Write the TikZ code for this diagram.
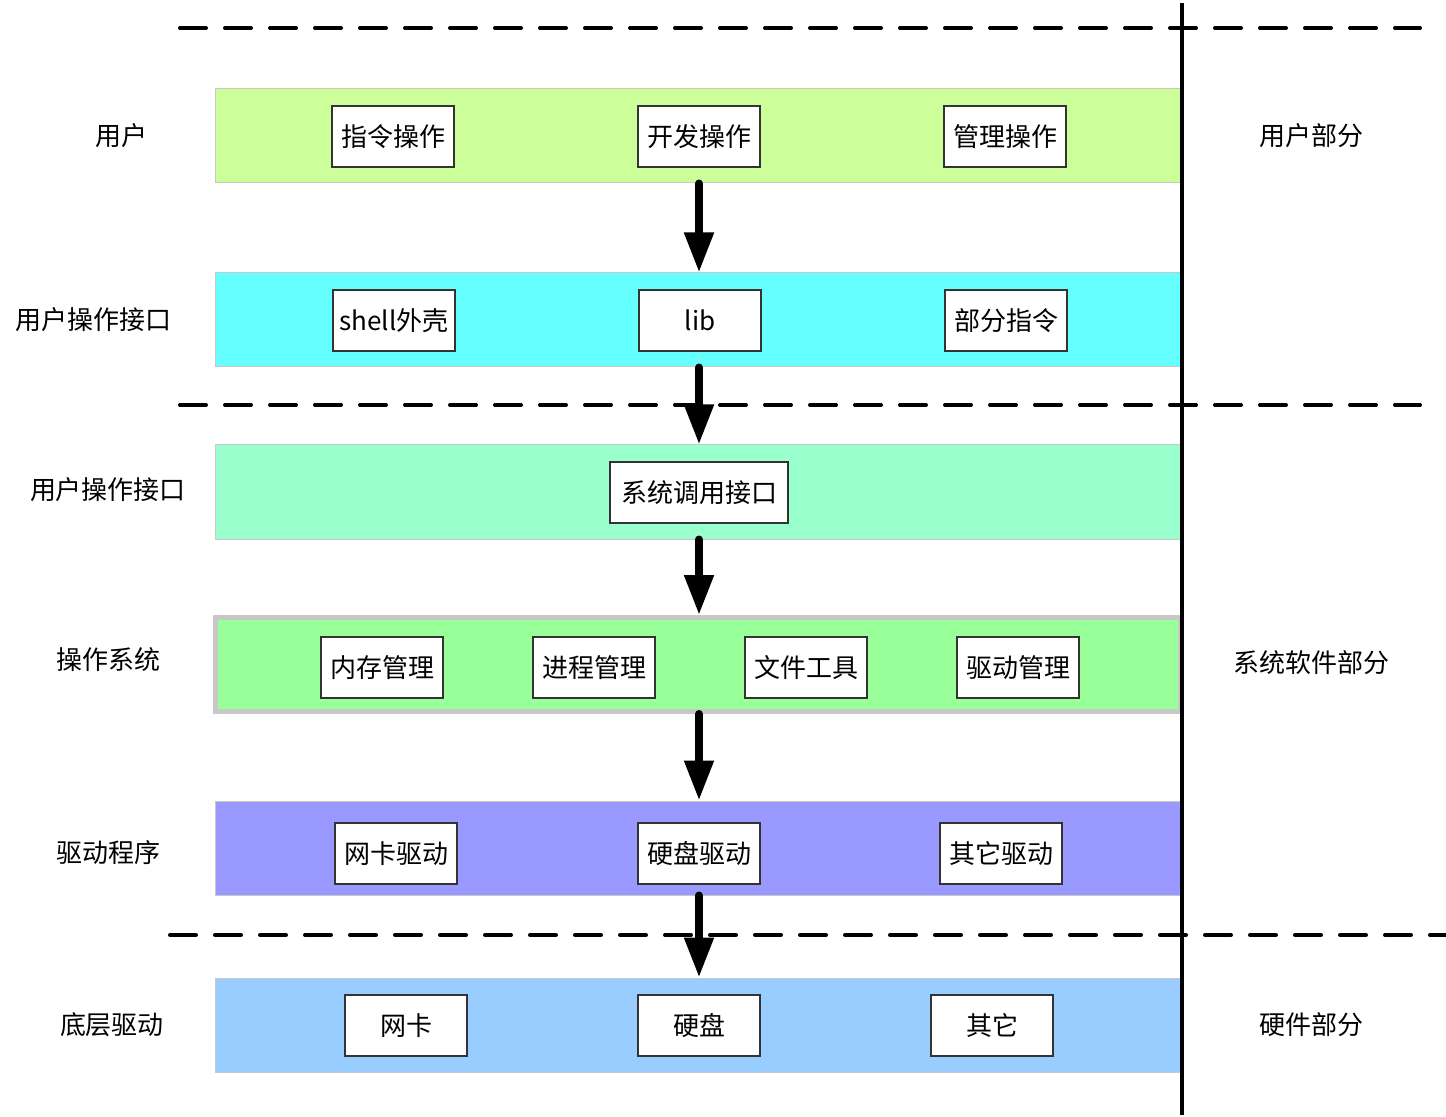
\documentclass[tikz,border=0pt]{standalone}
\usepackage{fontspec}
\setmainfont{Noto Sans CJK SC}
\usepackage{tikz}
\usetikzlibrary{arrows.meta, positioning}

\definecolor{userband}{HTML}{CCFF99}
\definecolor{ifaceband}{HTML}{66FFFF}
\definecolor{callband}{HTML}{99FFCC}
\definecolor{osband}{HTML}{99FF99}
\definecolor{drvband}{HTML}{9999FF}
\definecolor{hwband}{HTML}{99CCFF}
\definecolor{edgegray}{HTML}{C8C8C8}

\begin{document}
\begin{tikzpicture}
	[x=0.5pt, y=-0.5pt, font=\fontsize{13pt}{15pt}\selectfont,
	 band/.style={draw=edgegray, line width=0.5pt, minimum width=482.5pt, minimum height=47pt, inner sep=0pt},
	 item/.style={draw=black!80, fill=white, line width=0.6pt, minimum width=61pt, minimum height=30.5pt, inner sep=0pt},
	 flow/.style={-{Triangle[width=14pt,length=20pt]}, line width=4pt, line cap=round},
	 split/.style={line width=2pt, dash pattern=on 13pt off 9.5pt, line cap=round}]
   \useasboundingbox (0,0) rectangle (1446,1117);
   \coordinate (mid) at (699,0);
   % dashed separators
   \coordinate (d1a) at (180,28);  \coordinate (d1b) at (1420,28);
   \coordinate (d2a) at (180,405); \coordinate (d2b) at (1420,405);
   \coordinate (d3a) at (170,935); \coordinate (d3b) at (1446,935);
   \draw[split] (d1a) -- (d1b);
   \draw[split] (d2a) -- (d2b);
   \draw[split] (d3a) -- (d3b);
   % bands
   \node[band, fill=userband] (user) at (697.5,136) {};
   \node[band, fill=ifaceband] (iface) at (697.5,320) {};
   \node[band, fill=callband] (call) at (697.5,492) {};
   \node[band, fill=osband, line width=2.5pt] (os) at (697.5,664.5) {};
   \node[band, fill=drvband] (drv) at (697.5,848) {};
   \node[band, fill=hwband] (hw) at (697.5,1025) {};
   % left labels
   \node (l_user) at (121,136) {用户};
   \node (l_iface) at (94,320) {用户操作接口};
   \node (l_call) at (108,490) {用户操作接口};
   \node (l_os) at (108,660) {操作系统};
   \node (l_drv) at (108,853) {驱动程序};
   \node (l_hw) at (112,1025) {底层驱动};
   % right labels
   \node (r_user) at (1311,136) {用户部分};
   \node (r_sys) at (1311,663) {系统软件部分};
   \node (r_hw) at (1311,1025) {硬件部分};
   % boxes
   \node[item] (cmd) at (393,136.5) {指令操作};
   \node[item] (dev) at (699,136.5) {开发操作};
   \node[item] (adm) at (1005,136.5) {管理操作};
   \node[item] (shell) at (394,320.5) {shell外壳};
   \node[item] (lib) at (700,320.5) {lib};
   \node[item] (part) at (1006,320.5) {部分指令};
   \node[item, minimum width=89pt] (sys) at (699,492.5) {系统调用接口};
   \node[item] (mem) at (382,667.5) {内存管理};
   \node[item] (proc) at (594,667.5) {进程管理};
   \node[item] (file) at (806,667.5) {文件工具};
   \node[item] (dman) at (1018,667.5) {驱动管理};
   \node[item] (nicd) at (396,853.5) {网卡驱动};
   \node[item] (diskd) at (699,853.5) {硬盘驱动};
   \node[item] (othd) at (1001,853.5) {其它驱动};
   \node[item] (nic) at (406,1025.5) {网卡};
   \node[item] (disk) at (699,1025.5) {硬盘};
   \node[item] (oth) at (992,1025.5) {其它};
   % flow arrows
   \draw[flow] (user.south -| mid) -- (iface.north -| mid);
   \draw[flow] (iface.south -| mid) -- (call.north -| mid);
   \draw[flow] (call.south -| mid) -- (os.north -| mid);
   \draw[flow] (os.south -| mid) -- (drv.north -| mid);
   \draw[flow] (drv.south -| mid) -- (hw.north -| mid);
   % divider
   \coordinate (vtop) at (1182,3);
   \coordinate (vbot) at (1182,1115);
   \draw[line width=2pt] (vtop) -- (vbot);
\end{tikzpicture}
\end{document}
